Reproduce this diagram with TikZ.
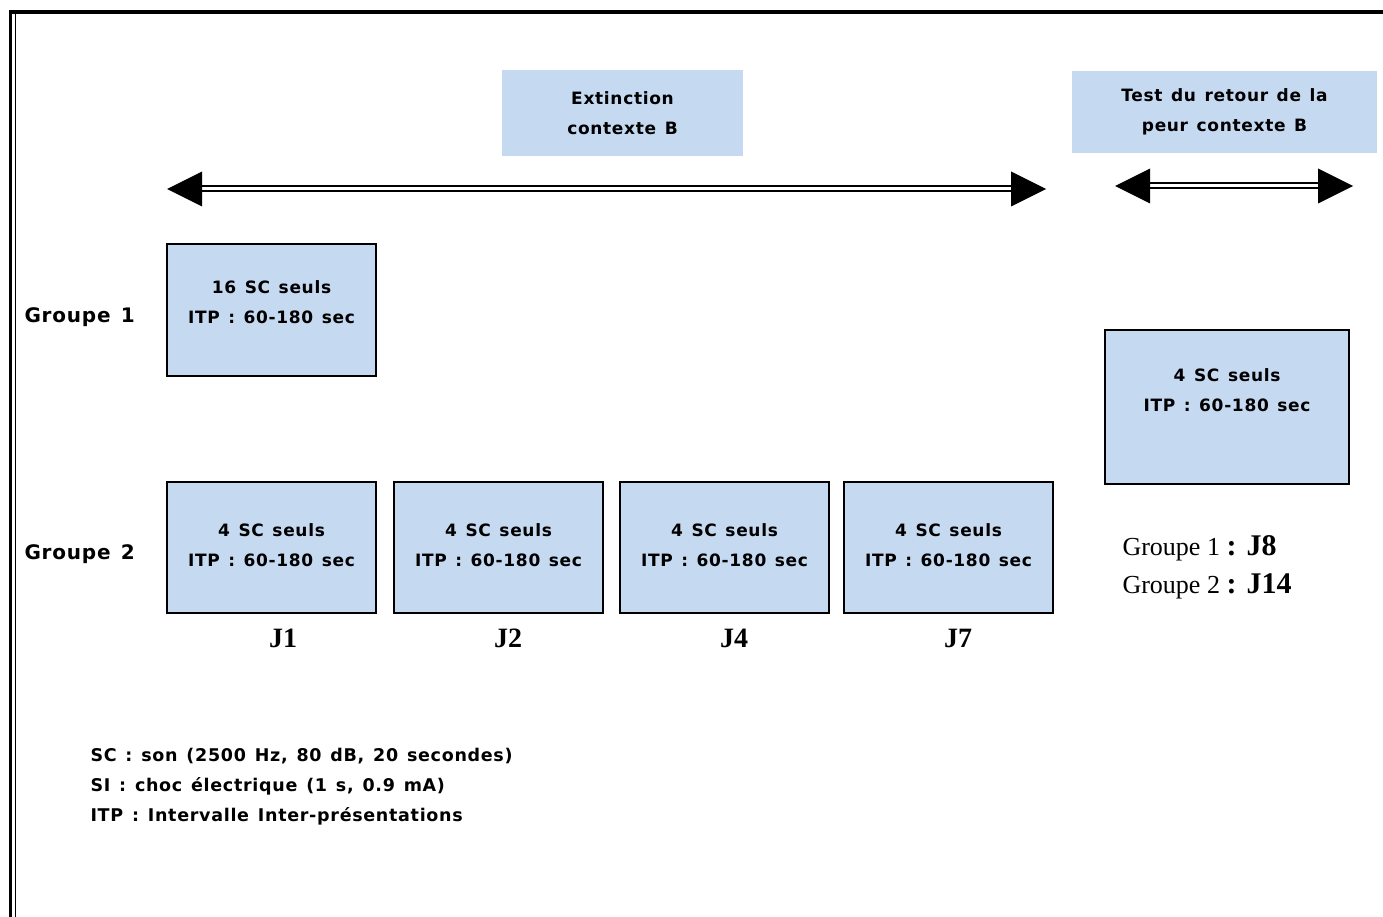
\documentclass[tikz,border=0pt]{standalone}
\usepackage{fontspec}
\setmainfont{Liberation Serif}
\newfontfamily\labfont{DejaVu Sans}[LetterSpace=4, WordSpace=1.3]
\definecolor{paleblue}{RGB}{197,217,241}
\begin{document}
\begin{tikzpicture}[x=1pt,y=-1pt,
  lab/.style={font=\labfont\bfseries\fontsize{17}{30}\selectfont, align=center},
  side/.style={font=\labfont\bfseries\fontsize{20}{24}\selectfont, anchor=west},
  legend/.style={font=\labfont\bfseries\fontsize{17.5}{30}\selectfont, anchor=north west, align=left},
  day/.style={font=\bfseries\fontsize{28}{30}\selectfont},
  phase/.style={fill=paleblue, lab, inner sep=0pt},
  trial/.style={fill=paleblue, draw=black, line width=1.5pt, inner sep=0pt},
  shaft/.style={line width=2pt, double=white, double distance=3pt},
  head/.style={fill=black}]
\useasboundingbox (0,0) rectangle (1383,917);
% frame
\draw[line width=4pt] (9,12) -- (1383,12);
\draw[line width=3pt] (10.5,10) -- (10.5,917);
\draw[line width=1.5pt] (15.5,14) -- (15.5,917);

% phase headers
\node[phase, minimum width=241pt, minimum height=86pt] (ext) at (622.5,113) {Extinction\\contexte B};
\node[phase, minimum width=305pt, minimum height=82pt] (test) at (1224.5,112) {Test du retour de la\\peur contexte B};

% double arrows
\coordinate (e1) at (167,189); \coordinate (e2) at (1046,189);
\draw[shaft] ([xshift=34pt]e1) -- ([xshift=-34pt]e2);
\fill[head] (e1) -- ++(35,-17.5) -- ++(0,35) -- cycle;
\fill[head] (e2) -- ++(-35,-17.5) -- ++(0,35) -- cycle;
\coordinate (t1) at (1115,186); \coordinate (t2) at (1353,186);
\draw[shaft] ([xshift=34pt]t1) -- ([xshift=-34pt]t2);
\fill[head] (t1) -- ++(35,-17.5) -- ++(0,35) -- cycle;
\fill[head] (t2) -- ++(-35,-17.5) -- ++(0,35) -- cycle;

% group labels
\node[side] (g1) at (21,317) {Groupe 1};
\node[side] (g2) at (21,554) {Groupe 2};

% trial blocks
\node[trial, minimum width=209pt, minimum height=132pt] (b1) at (271.5,310) {};
\node[lab] (b1t) at ([yshift=-59pt]b1.north) {16 SC seuls\\ITP : 60-180 sec};
\node[trial, minimum width=244pt, minimum height=154pt] (bt) at (1227,407) {};
\node[lab] (btt) at ([yshift=-61pt]bt.north) {4 SC seuls\\ITP : 60-180 sec};
\foreach \n/\cx in {j1/271.5, j2/498.5, j4/724.5, j7/948.5}{
  \node[trial, minimum width=209pt, minimum height=131pt] (\n) at (\cx,547.5) {};
  \node[lab] (\n t) at ([yshift=-64pt]\n.north) {4 SC seuls\\ITP : 60-180 sec};
}
\node[day] (d1) at (283,638) {J1};
\node[day] (d2) at (508,638) {J2};
\node[day] (d4) at (734,638) {J4};
\node[day] (d7) at (958,638) {J7};

% test days
\node[anchor=west, font=\fontsize{26}{38}\selectfont, align=left] (td) at (1119,567)
  {Groupe 1 \textbf{\fontsize{30}{38}\selectfont : J8}\\Groupe 2 \textbf{\fontsize{30}{38}\selectfont : J14}};

% legend
\node[legend] (leg) at (87,745) {SC : son (2500 Hz, 80 dB, 20 secondes)\\SI : choc électrique (1 s, 0.9 mA)\\ITP : Intervalle Inter-présentations};
\end{tikzpicture}
\end{document}
